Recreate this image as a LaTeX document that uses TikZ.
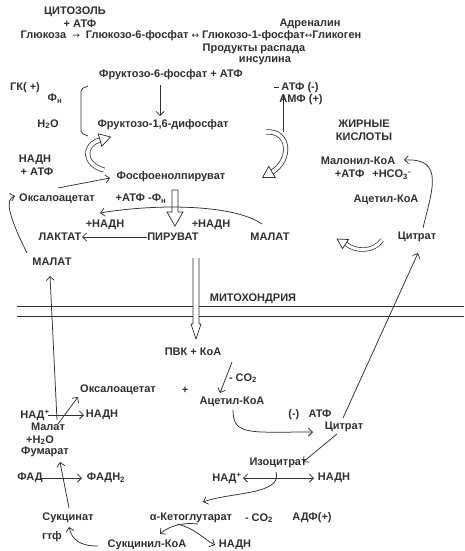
\documentclass[tikz,border=0pt]{standalone}
\usepackage{fontspec}
\setmainfont{Liberation Sans}
\newfontfamily\symfont{DejaVu Sans}
\newcommand{\symarr}[1]{{\symfont\mdseries\fontsize{9}{11}\selectfont #1}}
\usetikzlibrary{arrows.meta}
\definecolor{ink}{HTML}{303030}
\begin{document}
\begin{tikzpicture}[x=1pt,y=-1pt,
  every node/.style={font=\fontsize{11}{13}\selectfont\bfseries, text=ink, inner sep=0.5pt},
  ln/.style={draw=ink, line width=0.75pt},
  arr/.style={ln, -{Straight Barb[length=4pt,width=8pt]}},
  darr/.style={ln, {Straight Barb[length=4pt,width=8pt]}-{Straight Barb[length=4pt,width=8pt]}},
  hshaft/.style={draw=ink, line width=0.75pt, double=white, double distance=3.6pt},
  hhead/.style={draw=ink, line width=0.75pt, fill=white, line join=miter}
]
\useasboundingbox (0,0) rectangle (464,551);
\fill[white] (0,0) rectangle (464,551);

% ---- texts ----
\node (cyt) at (75,12) {ЦИТОЗОЛЬ};
\node (atf1) at (80,24) {+ АТФ};
\node (adr) at (310,24) {Адреналин};
\node[anchor=west] (glu) at (20,36) {Глюкоза\ \ \symarr{→}\ \ Глюкозо-6-фосфат\ \symarr{↔}\ Глюкозо-1-фосфат\symarr{↔}Гликоген};
\node (prod) at (254,49) {Продукты распада};
\node (ins) at (265,61) {инсулина};
\node (f6p) at (171,75) {Фруктозо-6-фосфат + АТФ};
\node (gk) at (25,88) {ГК( +)};
\node (fn) at (55,99) {Ф\textsubscript{н}};
\node (h2o) at (48,124) {H\textsubscript{2}O};
\node (f16) at (163,125) {Фруктозо-1,6-дифосфат};
\node (atfm) at (300,88) {АТФ (-)};
\node (amf) at (301,100) {АМФ (+)};
\node (fat1) at (364,124) {ЖИРНЫЕ};
\node (fat2) at (364,137) {КИСЛОТЫ};
\node (nadh1) at (35,160) {НАДН};
\node (atf2) at (37,172) {+ АТФ};
\node (pep) at (171,177) {Фосфоенолпируват};
\node (malonyl) at (358,161) {Малонил-КоА};
\node (hco) at (373,175) {+АТФ \;\,+HCO\textsubscript{3}\textsuperscript{-}};
\node (acetyl1) at (386,200) {Ацетил-КоА};
\node (oxa1) at (57,199) {Оксалоацетат};
\node (atfphi) at (141,199) {+АТФ -Ф\textsubscript{н}};
\node (nadh2) at (105,225) {+НАДН};
\node (nadh3) at (211,225) {+НАДН};
\node (lact) at (60,237) {ЛАКТАТ};
\node (pyr) at (173,237) {ПИРУВАТ};
\node (mal1) at (270,237) {МАЛАТ};
\node (cit1) at (417,237) {Цитрат};
\node (mal2) at (52,262) {МАЛАТ};
\node (mito) at (253,299) {МИТОХОНДРИЯ};
\node (pvk) at (193,352) {ПВК + КоА};
\node (co2a) at (243,378) {- CO\textsubscript{2}};
\node (oxa2) at (118,390) {Оксалоацетат};
\node (plus) at (185,390) {+};
\node (acetyl2) at (232,402) {Ацетил-КоА};
\node (nad1) at (35,415) {НАД\textsuperscript{+}};
\node (nadh4) at (102,415) {НАДН};
\node (atf3) at (310,415) {(-) \; АТФ};
\node (cit2) at (344,427) {Цитрат};
\node (malat3) at (48,427) {Малат};
\node (h2o2) at (40,440) {+H\textsubscript{2}O};
\node (fum) at (45,452) {Фумарат};
\node (iso) at (278,463) {Изоцитрат};
\node (fad) at (30,478) {ФАД};
\node (fadh) at (106,478) {ФАДН\textsubscript{2}};
\node (nad2) at (227,478) {НАД\textsuperscript{+}};
\node (nadh5) at (334,478) {НАДН};
\node (suc) at (68,518) {Сукцинат};
\node (akg) at (191,518) {α-Кетоглутарат};
\node (co2b) at (259,518) {- CO\textsubscript{2}};
\node (adf) at (312,518) {АДФ(+)};
\node (gtf) at (52,537) {гтф};
\node (sucoa) at (147,545) {Сукцинил-КоА};
\node (nadh6) at (235,545) {НАДН};

% ---- brackets ----
\draw[ln, rounded corners=2pt] (88,86) -- (81,89) -- (81,133) -- (88,136);
\draw[ln] (274,87) -- (279,87);
\draw[ln] (283,94) -- (283,132);

% ---- hollow arrows ----
% left C
\draw[hshaft] (104,170) .. controls (84,165) and (82,145) .. (100,140);
\draw[hhead] (98.2,133.8) -- (110.6,137) -- (101.8,146.2) -- cycle;
% right reversed C
\draw[hshaft] (266,132) .. controls (290,130) and (292,160) .. (272,172);
\draw[hhead] (275.3,177.6) -- (262.5,177.6) -- (268.7,166.4) -- cycle;
% small curved between MALAT and citrate
\draw[draw=ink, line width=0.7pt, double=white, double distance=3pt] (382,240) .. controls (374,252) and (356,252) .. (346,244);
\draw[hhead] (348.5,239.5) -- (337,239) -- (342.5,248.5) -- cycle;
% PEP -> pyruvate
\draw[hhead] (172,190) -- (172,212) -- (167,212) -- (175,226) -- (183,212) -- (178,212) -- (178,190) -- cycle;
% pyruvate -> PVK
\draw[ln, line join=miter] (193,258) -- (193,324) -- (191,324) -- (196,339) -- (201,324) -- (199,324) -- (199,258);

% ---- membrane ----
\draw[ln] (17,306) -- (193,306) (199,306) -- (464,306);
\draw[ln] (17,316) -- (193,316) (199,316) -- (464,316);

% ---- connectors ----
\draw[arr] (160,85) -- (160,116);
\draw[arr] (pyr.west) -- (lact.east);
\draw[arr] (58,188) -- (110,178);
\draw[arr] (262,224) .. controls (235,205) and (160,203) .. (100,213);
\draw[arr] (27,253) .. controls (8,215) and (5,199) .. (15,196);
\draw[arr] (423,228) .. controls (432,190) and (445,158) .. (404,160);
\draw[arr] (343,418) -- (418,253);
\draw[arr] (57,420) -- (50,276);
\draw[arr] (58,424) -- (78,397);
\draw[arr] (48,415) -- (84,415);
\draw[arr] (69,508) -- (60,462);
\draw[arr] (41,478) -- (82,478);
\draw[arr] (232,362) -- (220,393);
\draw[arr] (233,410) .. controls (233,436) and (250,432) .. (313,432);
\draw[arr] (337,434) -- (303,462);
\draw[darr] (243,478) -- (314,478);
\draw[arr] (276,472) .. controls (283,495) and (230,492) .. (203,502);
\draw[arr] (198,524) .. controls (180,522) and (168,527) .. (160,534);
\draw[arr] (177,524) .. controls (195,528) and (205,540) .. (215,545);
\draw[arr] (98,546) .. controls (80,546) and (72,540) .. (69,527);
\end{tikzpicture}
\end{document}
